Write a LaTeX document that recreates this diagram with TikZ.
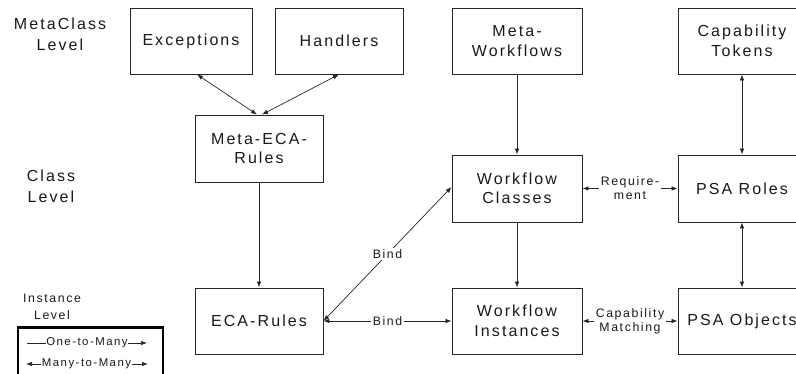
\documentclass[tikz,border=0pt]{standalone}
\usepackage{fontspec}
\setmainfont{Liberation Sans}[LetterSpace=13]
\usetikzlibrary{arrows.meta,calc}

\newcommand{\boxfont}{\fontsize{16}{19.5}\selectfont}
\newcommand{\levelfont}{\fontsize{16}{21}\selectfont}
\newcommand{\smallfont}{\fontsize{12.3}{14}\selectfont}
\newcommand{\legendfont}{\fontsize{12.3}{16.5}\selectfont}
\newcommand{\keyfont}{\fontsize{11.4}{14}\selectfont}

\tikzset{
  entity/.style={draw=black!85, line width=0.9pt, rectangle, align=center,
    inner sep=0pt, font=\boxfont, text=black!90},
  onemany/.style={-{Latex[length=6pt,width=4.5pt]}, line width=0.7pt, draw=black!85},
  manymany/.style={{Latex[length=6pt,width=4.5pt]}-{Latex[length=6pt,width=4.5pt]},
    line width=0.7pt, draw=black!85},
  linklabel/.style={fill=white, inner sep=1.5pt, align=center, font=\smallfont, text=black!90},
  levellabel/.style={align=center, inner sep=0pt, text=black!90},
  keytext/.style={font=\keyfont, inner sep=0.5pt, text=black!90},
}

\begin{document}
\begin{tikzpicture}[x=1pt, y=-1pt]
\useasboundingbox (0,0) rectangle (796,374);

% meta-class level
\node[entity, minimum width=122pt, minimum height=66pt] (exc)  at (191,41) {Exceptions};
\node[entity, minimum width=128pt, minimum height=66pt] (hand) at (339,41) {Handlers};
\node[entity, minimum width=130pt, minimum height=66pt] (mwf)  at (517,41) {Meta-\\Workflows};
\node[entity, minimum width=128pt, minimum height=66pt] (ctok) at (742,41) {Capability\\Tokens};

% class level
\node[entity, minimum width=128pt, minimum height=67pt] (meca) at (259,148.5) {Meta-ECA-\\Rules};
\node[entity, minimum width=130pt, minimum height=67pt] (wfc)  at (517,188.5) {Workflow\\Classes};
\node[entity, minimum width=128pt, minimum height=67pt] (psar) at (742,188.5) {PSA Roles};

% instance level
\node[entity, minimum width=128pt, minimum height=66pt] (eca)  at (259,321) {ECA-Rules};
\node[entity, minimum width=130pt, minimum height=66pt] (wfi)  at (517,321) {Workflow\\Instances};
\node[entity, minimum width=128pt, minimum height=66pt] (psao) at (742,321) {PSA Objects};

% level captions
\node[levellabel, font=\levelfont] (lmeta)  at (60,34)  {MetaClass\\Level};
\node[levellabel, font=\levelfont] (lclass) at (51,186) {Class\\Level};
\node[levellabel, font=\legendfont] (linst) at (52,307) {Instance\\Level};

% connectors
\draw[manymany] ([xshift=6pt]exc.south) -- ([xshift=-2pt]meca.north);
\draw[manymany] (hand.south) -- ([xshift=3pt]meca.north);
\draw[onemany] (meca.south) -- (eca.north);
\draw[onemany] (mwf.south) -- (wfc.north);
\draw[onemany] (wfc.south) -- (wfi.north);
\draw[manymany] (ctok.south) -- (psar.north);
\draw[manymany] (psar.south) -- (psao.north);

\draw[manymany] (eca.east) -- node[linklabel] (bind1) {Bind} ([yshift=1.5pt]wfc.west);
\draw[manymany] (eca.east) -- node[linklabel] (bind2) {Bind} (wfi.west);
\draw[manymany] (wfc.east) -- node[linklabel] (req) {Require-\\ment} (psar.west);
\draw[manymany] (wfi.east) -- node[linklabel] (capm) {Capability\\Matching} (psao.west);

% legend
\node[draw=black, line width=2.5pt, minimum width=145pt, minimum height=48pt, inner sep=0pt]
  (legend) at (90.5,351.5) {};
\node[keytext] (lone)  at (87,343) {One-to-Many};
\node[keytext] (lmany) at (86.5,364) {Many-to-Many};
\coordinate (lonea) at (27,343);
\coordinate (loneb) at (147,343);
\coordinate (lmanya) at (26,364);
\coordinate (lmanyb) at (148,364);
\draw[line width=0.7pt, draw=black!85] (lonea) -- (lone.west);
\draw[onemany] (lone.east) -- (loneb);
\draw[onemany] (lmany.west) -- (lmanya);
\draw[onemany] (lmany.east) -- (lmanyb);
\end{tikzpicture}
\end{document}
